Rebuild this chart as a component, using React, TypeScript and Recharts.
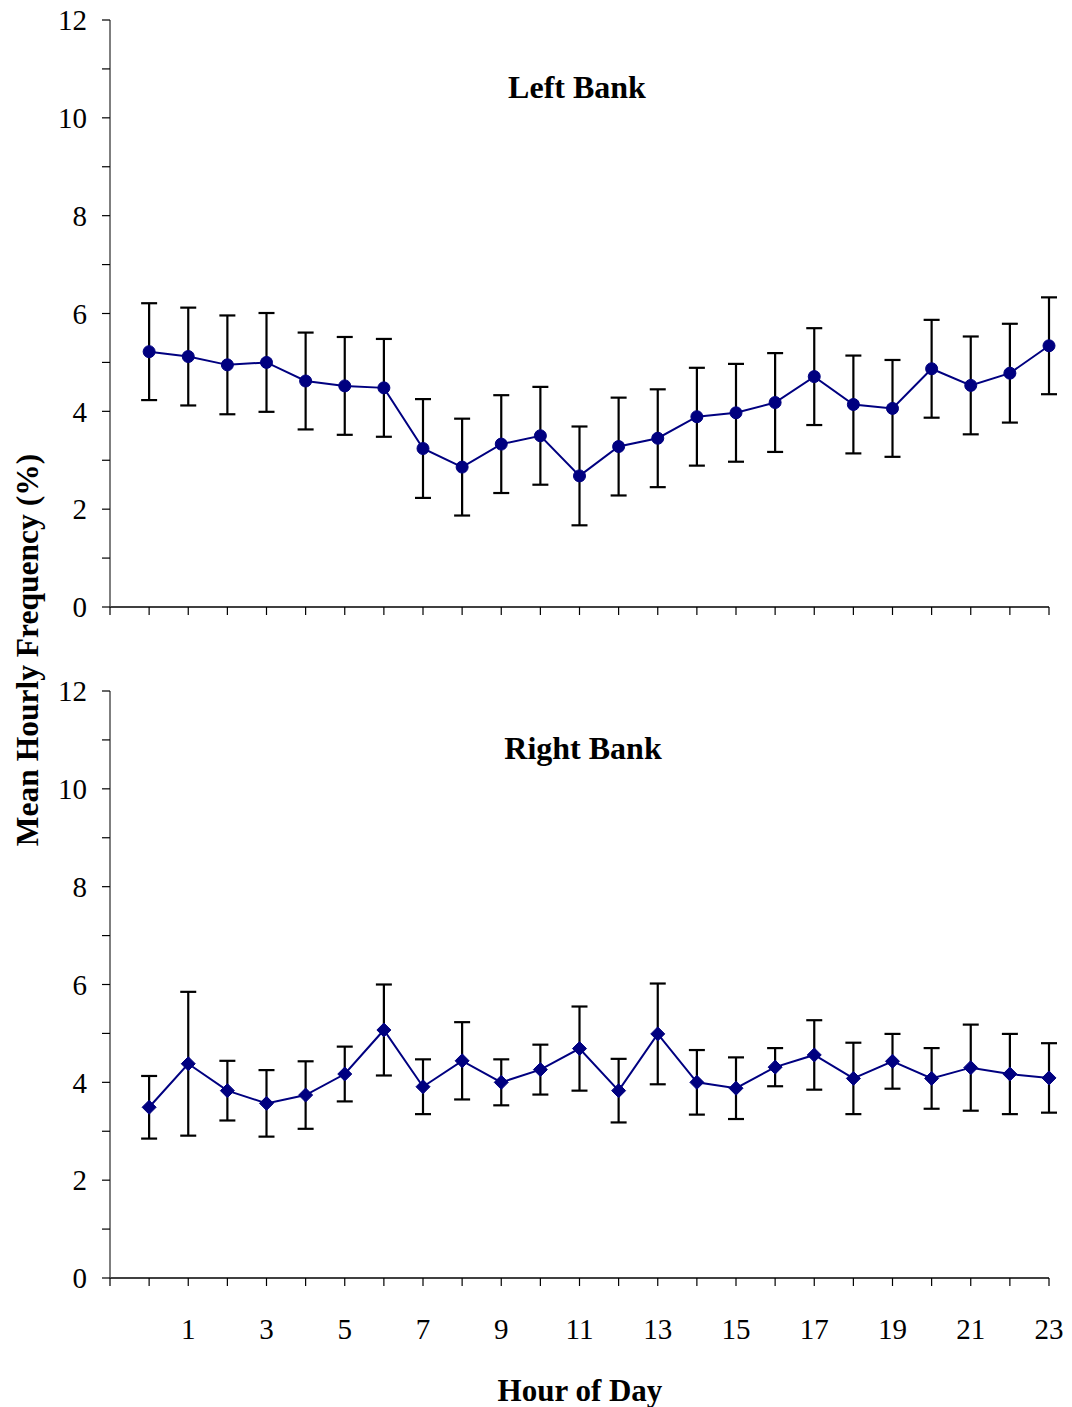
import React from 'react';
import { LineChart, Line, XAxis, YAxis, ErrorBar } from 'recharts';

const hours = [0, 1, 2, 3, 4, 5, 6, 7, 8, 9, 10, 11, 12, 13, 14, 15, 16, 17, 18, 19, 20, 21, 22, 23];
const leftMean = [5.22, 5.12, 4.95, 5.0, 4.62, 4.52, 4.48, 3.24, 2.86, 3.33, 3.5, 2.68, 3.28, 3.45, 3.89, 3.97, 4.18, 4.71, 4.14, 4.06, 4.87, 4.53, 4.78, 5.34];
const leftErr = [0.99, 1.0, 1.01, 1.01, 0.99, 1.0, 1.0, 1.01, 0.99, 1.0, 1.0, 1.01, 1.0, 1.0, 1.0, 1.0, 1.01, 0.99, 1.0, 0.99, 1.0, 1.0, 1.01, 0.99];
const rightMean = [3.49, 4.38, 3.83, 3.57, 3.74, 4.17, 5.07, 3.91, 4.44, 4.0, 4.26, 4.69, 3.83, 4.99, 4.0, 3.88, 4.31, 4.56, 4.08, 4.43, 4.08, 4.3, 4.17, 4.09];
const rightErr = [0.64, 1.47, 0.61, 0.68, 0.69, 0.56, 0.93, 0.56, 0.79, 0.47, 0.51, 0.86, 0.65, 1.03, 0.66, 0.63, 0.39, 0.71, 0.73, 0.56, 0.62, 0.88, 0.82, 0.71];

const xTicks = [-1, 0, 1, 2, 3, 4, 5, 6, 7, 8, 9, 10, 11, 12, 13, 14, 15, 16, 17, 18, 19, 20, 21, 22, 23];
const yTicks = [0, 1, 2, 3, 4, 5, 6, 7, 8, 9, 10, 11, 12];

const panelTitles = ['Left Bank', 'Right Bank'];
const xAxisTitle = 'Hour of Day';
const yAxisTitle = 'Mean Hourly Frequency (%)';

const leftData = hours.map((h, i) => ({ hour: h, mean: leftMean[i], err: leftErr[i] }));
const rightData = hours.map((h, i) => ({ hour: h, mean: rightMean[i], err: rightErr[i] }));

const FONT = '"Liberation Serif", "Times New Roman", serif';
const NAVY = '#000080';
const tickStyle = { fontFamily: FONT, fontSize: 29, fill: '#000' };

const CircleDot = (props: any) => {
  const { cx, cy, index } = props;
  if (cx == null || cy == null) return null;
  return <circle key={`c${index}`} cx={cx} cy={cy} r={6} fill={NAVY} stroke={NAVY} />;
};

const DiamondDot = (props: any) => {
  const { cx, cy, index } = props;
  if (cx == null || cy == null) return null;
  const s = 7;
  return (
    <polygon
      key={`d${index}`}
      points={`${cx},${cy - s} ${cx + s},${cy} ${cx},${cy + s} ${cx - s},${cy}`}
      fill={NAVY}
      stroke={NAVY}
    />
  );
};

const yFmt = (v: number) => (v % 2 === 0 ? String(v) : '');
const xFmtBottom = (v: number) => (v >= 1 && v % 2 === 1 ? String(v) : '');
const xFmtTop = () => '';

function Panel(props: { data: any[]; dot: any; top: number; height: number; margin: any; xHeight: number; xFmt: any }) {
  const { data, dot, top, height, margin, xHeight, xFmt } = props;
  return (
    <div style={{ position: 'absolute', left: 0, top }}>
      <LineChart width={1072} height={height} data={data} margin={margin}>
        <XAxis
          dataKey="hour"
          type="number"
          domain={[-1, 23]}
          ticks={xTicks}
          interval={0}
          tickFormatter={xFmt}
          tickSize={8}
          tickMargin={32}
          height={xHeight}
          stroke="#000"
          tick={tickStyle}
          axisLine={{ stroke: '#000', strokeWidth: 1.5 }}
          tickLine={{ stroke: '#000', strokeWidth: 1.2 }}
          allowDecimals={false}
        />
        <YAxis
          type="number"
          domain={[0, 12]}
          ticks={yTicks}
          interval={0}
          tickFormatter={yFmt}
          tickSize={8}
          tickMargin={15}
          width={60}
          tick={tickStyle}
          axisLine={{ stroke: '#555', strokeWidth: 1.5 }}
          tickLine={{ stroke: '#000', strokeWidth: 1.2 }}
        />
        <Line
          dataKey="mean"
          stroke={NAVY}
          strokeWidth={2}
          dot={dot}
          activeDot={false}
          isAnimationActive={false}
        >
          <ErrorBar dataKey="err" direction="y" width={8} stroke="#000" strokeWidth={2.2} isAnimationActive={false} />
        </Line>
      </LineChart>
    </div>
  );
}

export default function App() {
  return (
    <div style={{ position: 'absolute', left: 0, top: 0, width: 1072, height: 1407, background: '#fff', fontFamily: FONT }}>
      <Panel
        data={leftData}
        dot={CircleDot}
        top={0}
        height={650}
        margin={{ top: 20, right: 23, left: 50, bottom: 13 }}
        xHeight={30}
        xFmt={xFmtTop}
      />
      <Panel
        data={rightData}
        dot={DiamondDot}
        top={650}
        height={757}
        margin={{ top: 41, right: 23, left: 50, bottom: 69 }}
        xHeight={60}
        xFmt={xFmtBottom}
      />
      <svg width={1072} height={1407} style={{ position: 'absolute', left: 0, top: 0, pointerEvents: 'none' }}>
        <text x={577} y={98} textAnchor="middle" fontFamily={FONT} fontWeight="bold" fontSize={32}>{panelTitles[0]}</text>
        <text x={583} y={759} textAnchor="middle" fontFamily={FONT} fontWeight="bold" fontSize={32}>{panelTitles[1]}</text>
        <text x={580} y={1401} textAnchor="middle" fontFamily={FONT} fontWeight="bold" fontSize={31}>{xAxisTitle}</text>
        <text
          x={0}
          y={0}
          transform="translate(38, 650) rotate(-90)"
          textAnchor="middle"
          fontFamily={FONT}
          fontWeight="bold"
          fontSize={31.5}
        >
          {yAxisTitle}
        </text>
      </svg>
    </div>
  );
}
